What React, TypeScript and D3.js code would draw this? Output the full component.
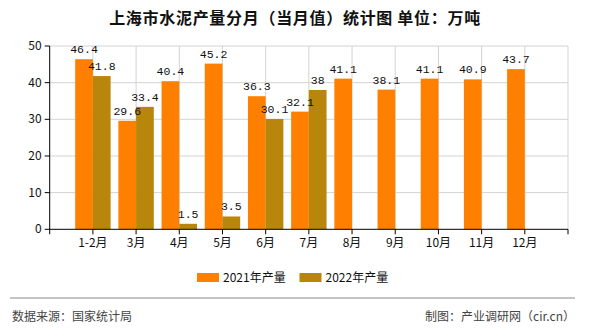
import React from "react";
import * as d3 from "d3";

const categories = ["1-2月", "3月", "4月", "5月", "6月", "7月", "8月", "9月", "10月", "11月", "12月"];
const series2021 = [46.4, 29.6, 40.4, 45.2, 36.3, 32.1, 41.1, 38.1, 41.1, 40.9, 43.7];
const series2022 = [41.8, 33.4, 1.5, 3.5, 30.1, 38];
const yTicks = [0, 10, 20, 30, 40, 50];
const seriesNames = ["2021年产量", "2022年产量"];
const title = "上海市水泥产量分月（当月值）统计图 单位：万吨";
const sourceText = "数据来源：国家统计局";
const creditText = "制图：产业调研网（cir.cn）";

const C2021 = "#FF8000";
const C2022 = "#B8860B";

export default function App() {
  const W = 590, H = 330;
  const left = 49.7, right = 568, top = 46, bottom = 229.3;
  const x = d3.scaleLinear().domain([0, categories.length + 1]).range([left, right]);
  const y = d3.scaleLinear().domain([0, 50]).range([bottom, top]);
  const step = x(1) - x(0);
  const bw = step * 0.41;
  const ticksX = d3.range(0, categories.length + 2);
  const cjk = "'Noto Sans CJK SC', 'Noto Sans', sans-serif";
  const mono = "'Liberation Mono', 'DejaVu Sans Mono', monospace";

  return (
    <svg width={W} height={H} style={{ position: "absolute", left: 0, top: 0, background: "#fff" }}>
      <text x={W / 2} y={24} textAnchor="middle" fontFamily={cjk} fontSize={16} fontWeight={600} letterSpacing={0.7} fill="#111">
        {title}
      </text>
      {/* grid */}
      {yTicks.filter(t => t > 0).map(t => (
        <line key={"gy" + t} x1={left} x2={right} y1={y(t)} y2={y(t)} stroke="#d3d3d3" strokeWidth={1} />
      ))}
      {ticksX.filter(t => t > 0).map(t => (
        <line key={"gx" + t} x1={x(t)} x2={x(t)} y1={top} y2={bottom} stroke="#d3d3d3" strokeWidth={1} />
      ))}
      {/* bars */}
      {series2021.map((v, i) => (
        <rect key={"a" + i} x={x(i + 1) - bw} y={y(v)} width={bw} height={y(0) - y(v)} fill={C2021} />
      ))}
      {series2022.map((v, i) => (
        <rect key={"b" + i} x={x(i + 1)} y={y(v)} width={bw} height={y(0) - y(v)} fill={C2022} />
      ))}
      {/* value labels */}
      {series2021.map((v, i) => (
        <text key={"la" + i} x={x(i + 1) - bw / 2} y={y(v) - 6} textAnchor="middle" fontFamily={mono} fontSize={11.5} fill="#111">
          {String(v)}
        </text>
      ))}
      {series2022.map((v, i) => (
        <text key={"lb" + i} x={x(i + 1) + bw / 2} y={y(v) - 6} textAnchor="middle" fontFamily={mono} fontSize={11.5} fill="#111">
          {String(v)}
        </text>
      ))}
      {/* axes */}
      <line x1={left} x2={left} y1={top} y2={bottom} stroke="#000" />
      <line x1={left} x2={right} y1={bottom} y2={bottom} stroke="#000" />
      {yTicks.map(t => (
        <g key={"yt" + t}>
          <line x1={left - 5} x2={left} y1={y(t)} y2={y(t)} stroke="#000" />
          <text x={left - 8} y={y(t) + 4} textAnchor="end" fontFamily={cjk} fontSize={12} fill="#111">{t}</text>
        </g>
      ))}
      {ticksX.map(t => (
        <line key={"xt" + t} x1={x(t)} x2={x(t)} y1={bottom} y2={bottom + 5} stroke="#000" />
      ))}
      {categories.map((c, i) => (
        <text key={"xl" + i} x={x(i + 1)} y={bottom + 18} textAnchor="middle" fontFamily={cjk} fontSize={12} fill="#111">{c}</text>
      ))}
      {/* legend */}
      <rect x={197} y={273} width={22} height={9} fill={C2021} />
      <text x={223} y={281.5} fontFamily={cjk} fontSize={12} fill="#111">{seriesNames[0]}</text>
      <rect x={299.5} y={273} width={22} height={9} fill={C2022} />
      <text x={325.5} y={281.5} fontFamily={cjk} fontSize={12} fill="#111">{seriesNames[1]}</text>
      {/* footer */}
      <line x1={10} x2={575} y1={298} y2={298} stroke="#888" strokeWidth={1} />
      <text x={12} y={321} fontFamily={cjk} fontSize={12} fill="#444">{sourceText}</text>
      <text x={575} y={321} textAnchor="end" fontFamily={cjk} fontSize={12} fill="#444">{creditText}</text>
    </svg>
  );
}
